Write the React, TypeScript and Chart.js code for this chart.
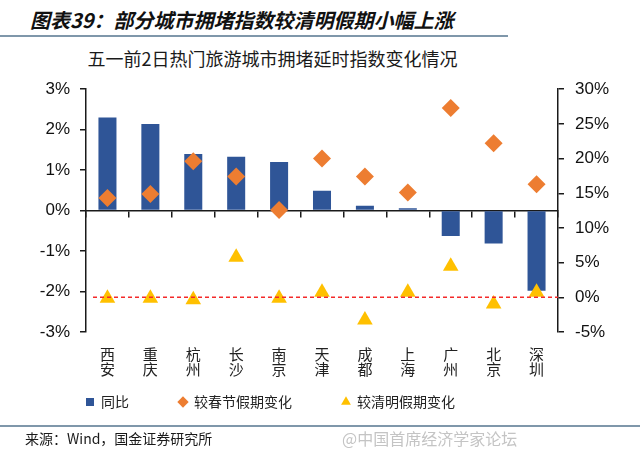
import React, { useEffect, useRef } from 'react';
import { Chart, registerables } from 'chart.js';

Chart.register(...registerables);

// ---- data ----
const cityLines: string[][] = [
  ['西', '安'], ['重', '庆'], ['杭', '州'], ['长', '沙'], ['南', '京'], ['天', '津'],
  ['成', '都'], ['上', '海'], ['广', '州'], ['北', '京'], ['深', '圳'],
];
const cityNames: string[] = cityLines.map((c) => c.join(''));
const yoyChange: number[] = [2.30, 2.14, 1.40, 1.33, 1.20, 0.49, 0.12, 0.06, -0.63, -0.81, -1.98];
const vsSpringFestival: number[] = [14.3, 14.9, 19.6, 17.4, 12.6, 20.0, 17.4, 15.1, 27.3, 22.2, 16.3];
const vsQingming: number[] = [-0.15, -0.15, -0.35, 5.76, -0.15, 0.72, -3.27, 0.72, 4.47, -0.97, 0.72];
const seriesNames: string[] = ['同比', '较春节假期变化', '较清明假期变化'];
const leftRange = { min: -3, max: 3, step: 1 };
const rightRange = { min: -5, max: 30, step: 5 };

const BLUE = '#2f5597';
const ORANGE = '#ed7d31';
const GOLD = '#ffc000';
const AXIS = '#1a1a1a';
const CJK = '"Noto Sans CJK SC", "Noto Sans", sans-serif';
const LATIN = '"Liberation Sans", Arial, sans-serif';

const LEGEND_PAD = 50;
const LEGEND_FONT = 14;
const LEGEND_OFFSET = 70; // legend text centre below the plot bottom

const zeroLinePlugin = {
  id: 'zeroLine',
  afterDatasetsDraw(chart: any) {
    const { ctx, chartArea } = chart;
    const y = chart.scales.y1.getPixelForValue(0);
    ctx.save();
    ctx.strokeStyle = '#f42a2a';
    ctx.lineWidth = 1.6;
    ctx.setLineDash([4, 3]);
    ctx.beginPath();
    ctx.moveTo(chartArea.left + 7, y);
    ctx.lineTo(chartArea.right, y);
    ctx.stroke();
    ctx.restore();
  },
};

// move the legend box up so it sits right under the category labels
const legendPlacePlugin = {
  id: 'legendPlace',
  afterLayout(chart: any) {
    const lg = chart.legend;
    if (!lg) return;
    const top = chart.chartArea.bottom + LEGEND_OFFSET - LEGEND_PAD - LEGEND_FONT / 2;
    const h = lg.bottom - lg.top;
    lg.top = top;
    lg.bottom = top + h;
  },
};

function ChartCanvas() {
  const ref = useRef<HTMLCanvasElement | null>(null);
  useEffect(() => {
    if (!ref.current) return;
    const chart = new Chart(ref.current, {
      type: 'bar',
      data: {
        labels: cityNames,
        datasets: [
          {
            type: 'bar',
            label: seriesNames[0],
            data: yoyChange,
            backgroundColor: BLUE,
            borderWidth: 0,
            barPercentage: 0.42,
            categoryPercentage: 1,
            xAxisID: 'x',
            yAxisID: 'y',
            order: 3,
            pointStyle: 'rect',
          } as any,
          {
            type: 'line',
            label: seriesNames[1],
            data: vsSpringFestival,
            showLine: false,
            pointStyle: 'rectRot',
            pointRadius: 9,
            pointBorderWidth: 0,
            backgroundColor: ORANGE,
            borderColor: ORANGE,
            xAxisID: 'x',
            yAxisID: 'y1',
            order: 2,
          } as any,
          {
            type: 'line',
            label: seriesNames[2],
            data: vsQingming,
            showLine: false,
            pointStyle: 'triangle',
            pointRadius: 9,
            pointBorderWidth: 0,
            backgroundColor: GOLD,
            borderColor: GOLD,
            xAxisID: 'x',
            yAxisID: 'y1',
            order: 1,
          } as any,
        ],
      },
      options: {
        animation: false,
        responsive: false,
        layout: { padding: { left: 36, right: 0, top: 14, bottom: 0 } },
        plugins: {
          tooltip: { enabled: false },
          legend: {
            position: 'bottom',
            align: 'start',
            labels: {
              usePointStyle: true,
              boxWidth: 8,
              boxHeight: 8,
              padding: LEGEND_PAD,
              color: '#222',
              font: { family: CJK, size: LEGEND_FONT },
              sort: (a: any, b: any) => a.datasetIndex - b.datasetIndex,
            },
          },
        },
        scales: {
          x: {
            type: 'category',
            position: { y: 0 } as any,
            offset: true,
            ticks: { display: false },
            grid: {
              display: true,
              offset: true,
              drawOnChartArea: false,
              drawTicks: true,
              tickLength: 6,
              color: AXIS,
              lineWidth: 1.5,
            },
            border: { display: true, color: AXIS, width: 1.5 },
          },
          x2: {
            type: 'category',
            labels: cityLines as any,
            position: 'bottom',
            offset: true,
            grid: { display: false, drawTicks: false },
            border: { display: false },
            ticks: {
              padding: 15,
              color: '#222',
              font: { family: CJK, size: 15, lineHeight: 1.0 },
              maxRotation: 0,
              autoSkip: false,
            },
            afterFit: (s: any) => { s.height = 47; },
          },
          y: {
            type: 'linear',
            position: 'left',
            min: leftRange.min,
            max: leftRange.max,
            ticks: {
              stepSize: leftRange.step,
              padding: 10,
              color: '#111',
              font: { family: LATIN, size: 17 },
              callback: (v: any) => `${v}%`,
            },
            grid: {
              display: true,
              drawOnChartArea: false,
              drawTicks: true,
              tickLength: 6,
              color: AXIS,
              lineWidth: 1.5,
            },
            border: { display: true, color: AXIS, width: 1.5 },
            afterFit: (s: any) => { s.width = 50; },
          },
          y1: {
            type: 'linear',
            position: 'right',
            min: rightRange.min,
            max: rightRange.max,
            ticks: {
              stepSize: rightRange.step,
              padding: 11,
              color: '#111',
              font: { family: LATIN, size: 17 },
              callback: (v: any) => `${v}%`,
            },
            grid: {
              display: true,
              drawOnChartArea: false,
              drawTicks: true,
              tickLength: 6,
              color: AXIS,
              lineWidth: 1.5,
            },
            border: { display: true, color: AXIS, width: 1.5 },
            afterFit: (s: any) => { s.width = 82; },
          },
        },
      },
      plugins: [zeroLinePlugin, legendPlacePlugin],
    } as any);
    return () => chart.destroy();
  }, []);
  return (
    <canvas
      ref={ref}
      width={640}
      height={385}
      style={{ position: 'absolute', left: 0, top: 68, width: 640, height: 385 }}
    />
  );
}

export default function App() {
  return (
    <div
      style={{
        position: 'fixed',
        left: 0,
        top: 0,
        width: 640,
        height: 451,
        background: '#fff',
        overflow: 'hidden',
        fontFamily: CJK,
      }}
    >
      <div
        style={{
          position: 'absolute', left: 30, top: 6, fontSize: 20, fontWeight: 700,
          fontStyle: 'italic', color: '#111', whiteSpace: 'nowrap', lineHeight: '28px',
        }}
      >
        图表39：部分城市拥堵指数较清明假期小幅上涨
      </div>
      <div style={{ position: 'absolute', left: 0, top: 35, width: 508, height: 2, background: '#7f97aa' }} />
      <div
        style={{
          position: 'absolute', left: 0, width: 545, top: 46, textAlign: 'center', fontSize: 18,
          color: '#1a1a1a', whiteSpace: 'nowrap', lineHeight: '24px',
        }}
      >
        五一前2日热门旅游城市拥堵延时指数变化情况
      </div>
      <ChartCanvas />
      <div style={{ position: 'absolute', left: 0, top: 425, width: 640, height: 2, background: '#7f97aa' }} />
      <div
        style={{
          position: 'absolute', left: 25, top: 428, fontSize: 14, color: '#1a1a1a',
          whiteSpace: 'nowrap', lineHeight: '20px',
        }}
      >
        来源：Wind，国金证券研究所
      </div>
      <div
        style={{
          position: 'absolute', left: 342, top: 427, fontSize: 16, color: '#c4c4c4',
          whiteSpace: 'nowrap', lineHeight: '22px',
        }}
      >
        @中国首席经济学家论坛
      </div>
    </div>
  );
}
